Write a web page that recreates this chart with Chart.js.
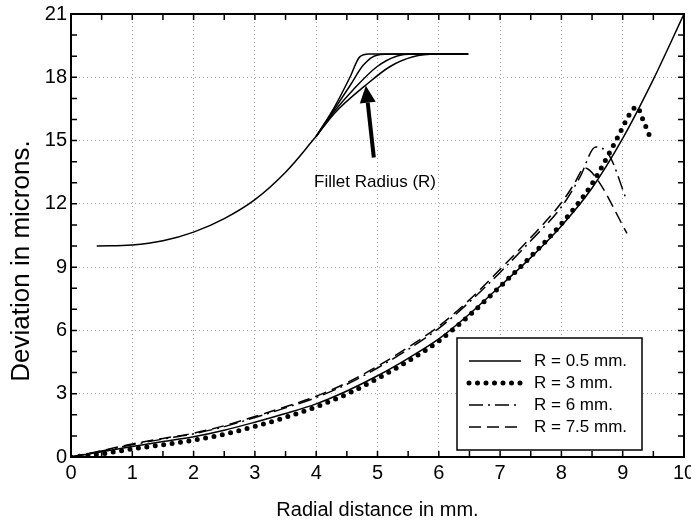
<!DOCTYPE html>
<html>
<head>
<meta charset="utf-8">
<script src="https://cdn.jsdelivr.net/npm/chart.js@4.4.0/dist/chart.umd.min.js"></script>
<style>
  html, body { margin: 0; padding: 0; background: #fff; }
</style>
</head>
<body>
<canvas id="devChart" width="691" height="525"></canvas>
<script>
// deviation curves (x = radial distance mm, y = microns)
const xMain = [0, 0.5, 1, 1.5, 2, 2.5, 3, 3.5, 4, 4.5, 5, 5.5, 6, 6.5, 7, 7.5, 8, 8.5, 9, 9.5, 10];
const r05 = [0, 0.25, 0.5, 0.73, 0.96, 1.27, 1.65, 2.06, 2.52, 3.13, 3.85, 4.68, 5.6, 6.78, 8.1, 9.45, 10.95, 12.75, 15.1, 17.9, 21];

const xR3 = [0, 0.5, 1, 1.5, 2, 2.5, 3, 3.5, 4, 4.5, 5, 5.5, 6, 6.5, 7, 7.5, 8, 8.5, 8.9, 9.16, 9.24, 9.3, 9.47];
const r3 = [0, 0.15, 0.38, 0.58, 0.8, 1.08, 1.45, 1.88, 2.38, 2.98, 3.72, 4.55, 5.5, 6.72, 8.08, 9.5, 11.05, 12.95, 15.05, 16.45, 16.6, 16.2, 15.0];

const xR6 = [0, 0.5, 1, 1.5, 2, 2.5, 3, 3.5, 4, 4.5, 5, 5.5, 6, 6.5, 7, 7.5, 8, 8.3, 8.56, 8.78, 9.06];
const r6 = [0, 0.28, 0.58, 0.85, 1.1, 1.44, 1.87, 2.33, 2.82, 3.45, 4.22, 5.1, 6.1, 7.35, 8.75, 10.25, 11.85, 13.25, 14.7, 14.3, 12.2];

const xR75 = [0, 0.5, 1, 1.5, 2, 2.5, 3, 3.5, 4, 4.5, 5, 5.5, 6, 6.5, 7, 7.5, 8, 8.2, 8.38, 8.55, 9.07];
const r75 = [0, 0.3, 0.62, 0.88, 1.13, 1.48, 1.92, 2.38, 2.88, 3.52, 4.3, 5.2, 6.2, 7.45, 8.9, 10.4, 12.05, 12.9, 13.7, 13.3, 10.6];

const legendLabels = ['R = 0.5 mm.', 'R = 3 mm.', 'R = 6 mm.', 'R = 7.5 mm.'];

// fillet sketch (drawn in data units)
const filletBaseX = [0.42, 1, 1.5, 2, 2.5, 3, 3.5, 4];
const filletBaseY = [10, 10.05, 10.25, 10.66, 11.3, 12.2, 13.5, 15.2];
const filletX1 = [4, 4.3, 4.55, 4.71, 4.86, 5.2, 6.48];
const filletY1 = [15.2, 16.6, 18.0, 18.97, 19.1, 19.1, 19.1];
const filletX2 = [4, 4.3, 4.55, 4.77, 4.99, 5.3, 6.48];
const filletY2 = [15.2, 16.5, 17.6, 18.58, 19.05, 19.1, 19.1];
const filletX3 = [4, 4.3, 4.6, 4.99, 5.31, 5.6, 6.48];
const filletY3 = [15.2, 16.4, 17.4, 18.5, 19.0, 19.1, 19.1];
const filletX4 = [4, 4.3, 4.81, 5.2, 5.58, 5.96, 6.48];
const filletY4 = [15.2, 16.3, 17.63, 18.5, 18.97, 19.1, 19.1];

const arrowTail = [4.94, 14.2];
const arrowTip = [4.81, 17.6];
const noteText = 'Fillet Radius (R)';
const notePos = [4.96, 13.03];
const yTitle = 'Deviation in microns.';

const FONT = 'Liberation Sans, Arial, sans-serif';
Chart.defaults.font.family = FONT;
Chart.defaults.color = '#000';

function pts(xs, ys) {
    return xs.map((v, i) => ({ x: v, y: ys[i] }));
}

function curve(label, xs, ys, extra) {
    return Object.assign({
        label: label,
        data: pts(xs, ys),
        showLine: true,
        borderColor: '#000',
        backgroundColor: '#000',
        borderWidth: 1.5,
        pointRadius: 0,
        cubicInterpolationMode: 'monotone',
        fill: false
    }, extra || {});
}

// inward ticks + frame
const framePlugin = {
    id: 'frame',
    afterDatasetsDraw(chart) {
        const { ctx, chartArea: a, scales } = chart;
        const sx = scales.x, sy = scales.y;
        ctx.save();
        ctx.strokeStyle = '#000';
        ctx.lineWidth = 1.5;
        ctx.beginPath();
        for (let v = 0.5; v < 10; v += 0.5) {
            const px = sx.getPixelForValue(v);
            ctx.moveTo(px, a.bottom); ctx.lineTo(px, a.bottom - 6);
            ctx.moveTo(px, a.top); ctx.lineTo(px, a.top + 6);
        }
        for (let v = 1; v < 21; v++) {
            const py = sy.getPixelForValue(v);
            ctx.moveTo(a.left, py); ctx.lineTo(a.left + 6, py);
            ctx.moveTo(a.right, py); ctx.lineTo(a.right - 6, py);
        }
        ctx.stroke();
        ctx.lineWidth = 2;
        ctx.strokeRect(a.left, a.top, a.right - a.left, a.bottom - a.top);

        // y axis title sits a bit below the middle in the original
        ctx.translate(22, 261);
        ctx.rotate(-Math.PI / 2);
        ctx.font = '26px ' + FONT;
        ctx.fillStyle = '#000';
        ctx.textAlign = 'center';
        ctx.textBaseline = 'middle';
        ctx.fillText(yTitle, 0, 0);
        ctx.restore();
    }
};

// arrow and note for the fillet sketch
const notePlugin = {
    id: 'note',
    afterDatasetsDraw(chart) {
        const { ctx, scales } = chart;
        const sx = scales.x, sy = scales.y;
        const x0 = sx.getPixelForValue(arrowTail[0]), y0 = sy.getPixelForValue(arrowTail[1]);
        const x1 = sx.getPixelForValue(arrowTip[0]), y1 = sy.getPixelForValue(arrowTip[1]);
        const ang = Math.atan2(y1 - y0, x1 - x0);
        const headLen = 17, headW = 8;
        const bx = x1 - headLen * Math.cos(ang), by = y1 - headLen * Math.sin(ang);
        ctx.save();
        ctx.strokeStyle = '#000';
        ctx.fillStyle = '#000';
        ctx.lineWidth = 4;
        ctx.beginPath();
        ctx.moveTo(x0, y0);
        ctx.lineTo(bx, by);
        ctx.stroke();
        ctx.beginPath();
        ctx.moveTo(x1, y1);
        ctx.lineTo(bx + headW * Math.sin(ang), by - headW * Math.cos(ang));
        ctx.lineTo(bx - headW * Math.sin(ang), by + headW * Math.cos(ang));
        ctx.closePath();
        ctx.fill();
        ctx.font = '17px ' + FONT;
        ctx.textAlign = 'center';
        ctx.textBaseline = 'middle';
        ctx.fillText(noteText, sx.getPixelForValue(notePos[0]), sy.getPixelForValue(notePos[1]));
        ctx.restore();
    }
};

// boxed legend in lower right
const boxLegend = {
    id: 'boxLegend',
    afterDraw(chart) {
        const { ctx, chartArea: a } = chart;
        const left = a.right - 227, top = a.bottom - 119, w = 185, h = 112;
        ctx.save();
        ctx.fillStyle = '#fff';
        ctx.fillRect(left, top, w, h);
        ctx.strokeStyle = '#000';
        ctx.lineWidth = 1.5;
        ctx.strokeRect(left, top, w, h);
        legendLabels.forEach((lab, i) => {
            const ds = chart.data.datasets[i];
            const y = top + 23 + i * 22;
            ctx.beginPath();
            ctx.setLineDash(ds.borderDash || []);
            ctx.lineCap = ds.borderCapStyle || 'butt';
            ctx.lineWidth = ds.borderWidth;
            ctx.moveTo(left + 12, y);
            ctx.lineTo(left + 64, y);
            ctx.stroke();
            ctx.setLineDash([]);
            ctx.fillStyle = '#000';
            ctx.font = '17px ' + FONT;
            ctx.textBaseline = 'middle';
            ctx.textAlign = 'left';
            ctx.fillText(lab, left + 77, y);
        });
        ctx.restore();
    }
};

const ctx = document.getElementById('devChart').getContext('2d');
new Chart(ctx, {
    type: 'scatter',
    data: {
        datasets: [
            curve(legendLabels[0], xMain, r05),
            curve(legendLabels[1], xR3, r3, { borderWidth: 5, borderDash: [0, 8.5], borderCapStyle: 'round' }),
            curve(legendLabels[2], xR6, r6, { borderDash: [14, 5, 2, 5] }),
            curve(legendLabels[3], xR75, r75, { borderDash: [12, 6] }),
            curve('fillet', filletBaseX, filletBaseY, { cubicInterpolationMode: 'default', tension: 0.4 }),
            curve('fillet', filletX1, filletY1),
            curve('fillet', filletX2, filletY2),
            curve('fillet', filletX3, filletY3),
            curve('fillet', filletX4, filletY4)
        ]
    },
    options: {
        responsive: false,
        animation: false,
        devicePixelRatio: 1,
        layout: { padding: { top: 14, right: 7, bottom: 0, left: 0 } },
        plugins: {
            legend: { display: false },
            tooltip: { enabled: false }
        },
        scales: {
            x: {
                type: 'linear',
                min: 0,
                max: 10,
                ticks: { stepSize: 1, font: { size: 20 }, padding: 4, color: '#000' },
                grid: { color: '#aaa', lineWidth: 1, drawTicks: false },
                border: { display: false, dash: [1, 3] },
                title: { display: true, text: 'Radial distance in mm.', font: { size: 20 }, padding: { top: 0, bottom: 3 } },
                afterFit(s) { s.height = 68; s.paddingLeft = 0; s.paddingRight = 0; }
            },
            y: {
                min: 0,
                max: 21,
                ticks: { stepSize: 3, font: { size: 20 }, padding: 4, color: '#000' },
                grid: { color: '#aaa', lineWidth: 1, drawTicks: false },
                border: { display: false, dash: [1, 3] },
                title: { display: false },
                afterFit(s) { s.width = 71; s.paddingTop = 0; s.paddingBottom = 0; }
            }
        }
    },
    plugins: [framePlugin, notePlugin, boxLegend]
});
</script>
</body>
</html>
